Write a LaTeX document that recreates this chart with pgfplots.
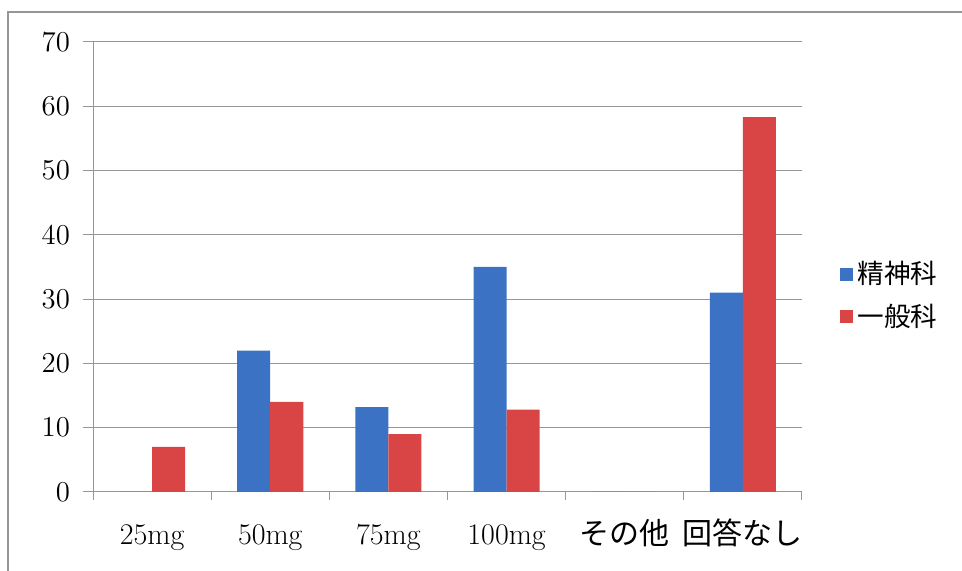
\documentclass[border=0pt]{standalone}
\usepackage{pgfplots}
\pgfplotsset{compat=1.18}
\usepackage{fontspec}
\newfontfamily\cjk{Noto Sans CJK JP}
\definecolor{barblue}{RGB}{59,114,196}
\definecolor{barred}{RGB}{217,69,69}
\definecolor{gridgray}{RGB}{150,150,150}
\begin{document}
\begin{tikzpicture}
\useasboundingbox (-46.5pt,-39.5pt) rectangle (434.5pt,246pt);
\draw[gridgray, line width=0.6pt] (-42.5pt,-80pt) -- (-42.5pt,240pt) -- (520pt,240pt);
\begin{axis}[
  at={(0,0)}, anchor=south west,
  scale only axis, width=354.5pt, height=225pt,
  xmin=-0.5, xmax=5.5, ymin=0, ymax=70,
  ybar=0pt, bar width=16.5pt,
  axis x line*=bottom, axis y line*=left,
  axis line style={-, gridgray, line width=0.5pt},
  tick align=outside,
  ytick={0,10,...,70},
  ymajorgrids, grid style={gridgray, line width=0.5pt},
  major tick length=5pt, minor tick length=4pt,
  tick style={gridgray, line width=0.5pt},
  xtick={0,...,5},
  xticklabels={25mg,50mg,75mg,100mg,{\cjk その他},{\cjk 回答なし}},
  minor xtick={-0.5,0.5,...,5.5},
  major x tick style={draw=none},
  yticklabel style={font=\fontsize{15}{18}\selectfont, xshift=-3pt},
  xticklabel style={font=\fontsize{15}{17}\selectfont, anchor=base, yshift=-21.5pt},
  legend style={draw=none, fill=none, at={(1.0536,0.522)}, anchor=north west,
    font=\cjk\fontsize{13.3}{15}\selectfont, row sep=4.5pt, inner sep=0pt,
    /tikz/every even column/.append style={column sep=5pt}},
  legend cell align=left,
  legend image code/.code={\path[#1,draw=none] (0pt,-3.25pt) rectangle (6.5pt,3.25pt);},
]
\addplot[fill=barblue, draw=none] coordinates {(0,0) (1,22) (2,13.2) (3,35) (4,0) (5,31)};
\addplot[fill=barred, draw=none] coordinates {(0,7) (1,14) (2,9) (3,12.8) (4,0) (5,58.3)};
\legend{精神科,一般科}
\end{axis}
\end{tikzpicture}
\end{document}
